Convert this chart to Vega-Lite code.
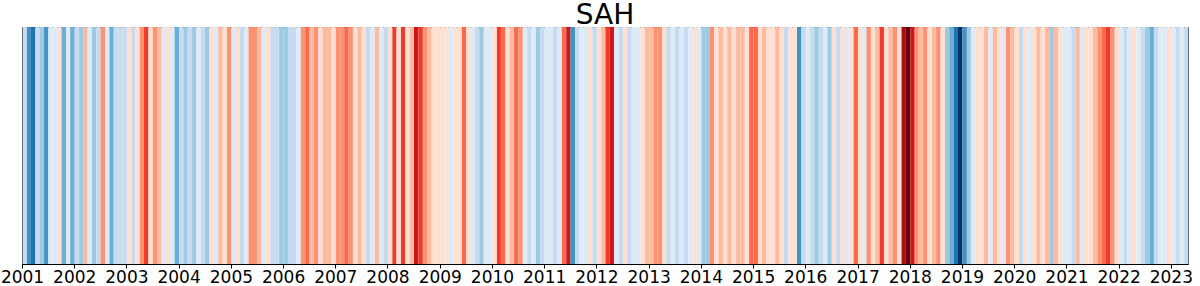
{
"$schema": "https://vega.github.io/schema/vega-lite/v6.json",
"width": 1166, "height": 237,
"autosize": {"type": "none"},
"padding": {"left": 22, "top": 27, "right": 12, "bottom": 22},
"background": "white",
"title": {"text": "SAH", "fontSize": 28, "font": "DejaVu Sans", "fontWeight": "normal", "color": "black", "offset": 3, "dy": 6, "anchor": "middle"},
"config": {"view": {"stroke": "black", "strokeWidth": 1}},
"datasets": {"stripes": [
{"date":"2001-01-01","level":6},{"date":"2001-02-01","level":3},{"date":"2001-03-01","level":2},{"date":"2001-04-01","level":6},{"date":"2001-05-01","level":5},{"date":"2001-06-01","level":3},{"date":"2001-07-01","level":7},{"date":"2001-08-01","level":7},{"date":"2001-09-01","level":8},{"date":"2001-10-01","level":4},{"date":"2001-11-01","level":7},{"date":"2001-12-01","level":4},
{"date":"2002-01-01","level":6},{"date":"2002-02-01","level":5},{"date":"2002-03-01","level":9},{"date":"2002-04-01","level":7},{"date":"2002-05-01","level":5},{"date":"2002-06-01","level":6},{"date":"2002-07-01","level":10},{"date":"2002-08-01","level":7},{"date":"2002-09-01","level":4},{"date":"2002-10-01","level":6},{"date":"2002-11-01","level":6},{"date":"2002-12-01","level":6},
{"date":"2003-01-01","level":8},{"date":"2003-02-01","level":6},{"date":"2003-03-01","level":8},{"date":"2003-04-01","level":10},{"date":"2003-05-01","level":12},{"date":"2003-06-01","level":8},{"date":"2003-07-01","level":10},{"date":"2003-08-01","level":9},{"date":"2003-09-01","level":7},{"date":"2003-10-01","level":8},{"date":"2003-11-01","level":7},{"date":"2003-12-01","level":4},
{"date":"2004-01-01","level":6},{"date":"2004-02-01","level":5},{"date":"2004-03-01","level":6},{"date":"2004-04-01","level":5},{"date":"2004-05-01","level":7},{"date":"2004-06-01","level":6},{"date":"2004-07-01","level":5},{"date":"2004-08-01","level":8},{"date":"2004-09-01","level":7},{"date":"2004-10-01","level":9},{"date":"2004-11-01","level":8},{"date":"2004-12-01","level":10},
{"date":"2005-01-01","level":7},{"date":"2005-02-01","level":8},{"date":"2005-03-01","level":6},{"date":"2005-04-01","level":7},{"date":"2005-05-01","level":10},{"date":"2005-06-01","level":10},{"date":"2005-07-01","level":9},{"date":"2005-08-01","level":7},{"date":"2005-09-01","level":8},{"date":"2005-10-01","level":6},{"date":"2005-11-01","level":6},{"date":"2005-12-01","level":5},
{"date":"2006-01-01","level":5},{"date":"2006-02-01","level":6},{"date":"2006-03-01","level":6},{"date":"2006-04-01","level":7},{"date":"2006-05-01","level":10},{"date":"2006-06-01","level":11},{"date":"2006-07-01","level":9},{"date":"2006-08-01","level":10},{"date":"2006-09-01","level":8},{"date":"2006-10-01","level":9},{"date":"2006-11-01","level":9},{"date":"2006-12-01","level":8},
{"date":"2007-01-01","level":10},{"date":"2007-02-01","level":10},{"date":"2007-03-01","level":11},{"date":"2007-04-01","level":10},{"date":"2007-05-01","level":8},{"date":"2007-06-01","level":9},{"date":"2007-07-01","level":8},{"date":"2007-08-01","level":6},{"date":"2007-09-01","level":7},{"date":"2007-10-01","level":9},{"date":"2007-11-01","level":7},{"date":"2007-12-01","level":6},
{"date":"2008-01-01","level":8},{"date":"2008-02-01","level":12},{"date":"2008-03-01","level":8},{"date":"2008-04-01","level":12},{"date":"2008-05-01","level":8},{"date":"2008-06-01","level":9},{"date":"2008-07-01","level":13},{"date":"2008-08-01","level":12},{"date":"2008-09-01","level":10},{"date":"2008-10-01","level":9},{"date":"2008-11-01","level":8},{"date":"2008-12-01","level":8},
{"date":"2009-01-01","level":8},{"date":"2009-02-01","level":8},{"date":"2009-03-01","level":7},{"date":"2009-04-01","level":8},{"date":"2009-05-01","level":8},{"date":"2009-06-01","level":11},{"date":"2009-07-01","level":8},{"date":"2009-08-01","level":7},{"date":"2009-09-01","level":6},{"date":"2009-10-01","level":5},{"date":"2009-11-01","level":7},{"date":"2009-12-01","level":7},
{"date":"2010-01-01","level":8},{"date":"2010-02-01","level":12},{"date":"2010-03-01","level":11},{"date":"2010-04-01","level":8},{"date":"2010-05-01","level":9},{"date":"2010-06-01","level":11},{"date":"2010-07-01","level":10},{"date":"2010-08-01","level":7},{"date":"2010-09-01","level":6},{"date":"2010-10-01","level":7},{"date":"2010-11-01","level":5},{"date":"2010-12-01","level":6},
{"date":"2011-01-01","level":7},{"date":"2011-02-01","level":7},{"date":"2011-03-01","level":6},{"date":"2011-04-01","level":7},{"date":"2011-05-01","level":11},{"date":"2011-06-01","level":13},{"date":"2011-07-01","level":3},{"date":"2011-08-01","level":6},{"date":"2011-09-01","level":7},{"date":"2011-10-01","level":7},{"date":"2011-11-01","level":8},{"date":"2011-12-01","level":6},
{"date":"2012-01-01","level":8},{"date":"2012-02-01","level":9},{"date":"2012-03-01","level":12},{"date":"2012-04-01","level":13},{"date":"2012-05-01","level":7},{"date":"2012-06-01","level":6},{"date":"2012-07-01","level":8},{"date":"2012-08-01","level":6},{"date":"2012-09-01","level":7},{"date":"2012-10-01","level":7},{"date":"2012-11-01","level":8},{"date":"2012-12-01","level":9},
{"date":"2013-01-01","level":9},{"date":"2013-02-01","level":10},{"date":"2013-03-01","level":10},{"date":"2013-04-01","level":8},{"date":"2013-05-01","level":6},{"date":"2013-06-01","level":7},{"date":"2013-07-01","level":6},{"date":"2013-08-01","level":7},{"date":"2013-09-01","level":6},{"date":"2013-10-01","level":7},{"date":"2013-11-01","level":8},{"date":"2013-12-01","level":7},
{"date":"2014-01-01","level":5},{"date":"2014-02-01","level":5},{"date":"2014-03-01","level":10},{"date":"2014-04-01","level":8},{"date":"2014-05-01","level":9},{"date":"2014-06-01","level":8},{"date":"2014-07-01","level":9},{"date":"2014-08-01","level":8},{"date":"2014-09-01","level":9},{"date":"2014-10-01","level":9},{"date":"2014-11-01","level":8},{"date":"2014-12-01","level":11},
{"date":"2015-01-01","level":11},{"date":"2015-02-01","level":8},{"date":"2015-03-01","level":9},{"date":"2015-04-01","level":8},{"date":"2015-05-01","level":8},{"date":"2015-06-01","level":9},{"date":"2015-07-01","level":8},{"date":"2015-08-01","level":6},{"date":"2015-09-01","level":8},{"date":"2015-10-01","level":8},{"date":"2015-11-01","level":3},{"date":"2015-12-01","level":6},
{"date":"2016-01-01","level":7},{"date":"2016-02-01","level":6},{"date":"2016-03-01","level":5},{"date":"2016-04-01","level":6},{"date":"2016-05-01","level":7},{"date":"2016-06-01","level":5},{"date":"2016-07-01","level":8},{"date":"2016-08-01","level":6},{"date":"2016-09-01","level":8},{"date":"2016-10-01","level":7},{"date":"2016-11-01","level":8},{"date":"2016-12-01","level":11},
{"date":"2017-01-01","level":8},{"date":"2017-02-01","level":7},{"date":"2017-03-01","level":10},{"date":"2017-04-01","level":8},{"date":"2017-05-01","level":9},{"date":"2017-06-01","level":12},{"date":"2017-07-01","level":8},{"date":"2017-08-01","level":9},{"date":"2017-09-01","level":10},{"date":"2017-10-01","level":8},{"date":"2017-11-01","level":14},{"date":"2017-12-01","level":15},
{"date":"2018-01-01","level":13},{"date":"2018-02-01","level":10},{"date":"2018-03-01","level":9},{"date":"2018-04-01","level":10},{"date":"2018-05-01","level":8},{"date":"2018-06-01","level":9},{"date":"2018-07-01","level":10},{"date":"2018-08-01","level":8},{"date":"2018-09-01","level":5},{"date":"2018-10-01","level":4},{"date":"2018-11-01","level":2},{"date":"2018-12-01","level":0},
{"date":"2019-01-01","level":3},{"date":"2019-02-01","level":5},{"date":"2019-03-01","level":7},{"date":"2019-04-01","level":8},{"date":"2019-05-01","level":8},{"date":"2019-06-01","level":9},{"date":"2019-07-01","level":7},{"date":"2019-08-01","level":9},{"date":"2019-09-01","level":8},{"date":"2019-10-01","level":7},{"date":"2019-11-01","level":10},{"date":"2019-12-01","level":9},
{"date":"2020-01-01","level":8},{"date":"2020-02-01","level":6},{"date":"2020-03-01","level":8},{"date":"2020-04-01","level":7},{"date":"2020-05-01","level":8},{"date":"2020-06-01","level":9},{"date":"2020-07-01","level":8},{"date":"2020-08-01","level":9},{"date":"2020-09-01","level":5},{"date":"2020-10-01","level":9},{"date":"2020-11-01","level":8},{"date":"2020-12-01","level":7},
{"date":"2021-01-01","level":7},{"date":"2021-02-01","level":6},{"date":"2021-03-01","level":9},{"date":"2021-04-01","level":7},{"date":"2021-05-01","level":8},{"date":"2021-06-01","level":8},{"date":"2021-07-01","level":9},{"date":"2021-08-01","level":10},{"date":"2021-09-01","level":11},{"date":"2021-10-01","level":12},{"date":"2021-11-01","level":10},{"date":"2021-12-01","level":8},
{"date":"2022-01-01","level":7},{"date":"2022-02-01","level":6},{"date":"2022-03-01","level":7},{"date":"2022-04-01","level":8},{"date":"2022-05-01","level":7},{"date":"2022-06-01","level":6},{"date":"2022-07-01","level":5},{"date":"2022-08-01","level":4},{"date":"2022-09-01","level":6},{"date":"2022-10-01","level":7},{"date":"2022-11-01","level":7},{"date":"2022-12-01","level":8},
{"date":"2023-01-01","level":7},{"date":"2023-02-01","level":6},{"date":"2023-03-01","level":7},{"date":"2023-04-01","level":6}
]},
"data": {"name": "stripes", "format": {"parse": {"date": "utc:'%Y-%m-%d'"}}},
"mark": {"type": "rect"},
"encoding": {
  "x": {"field": "date", "type": "temporal", "timeUnit": "utcyearmonth",
    "scale": {"type": "utc", "domain": [{"year": 2001, "month": 1, "date": 1, "utc": true}, {"year": 2023, "month": 5, "date": 1, "utc": true}], "nice": false},
    "axis": {"title": null, "format": "%Y", "tickCount": {"interval": "year", "step": 1}, "labelFlush": false, "labelOverlap": false, "labelFontSize": 17, "labelFont": "DejaVu Sans", "labelColor": "black", "tickColor": "black", "tickSize": 4, "tickWidth": 1, "domain": false, "grid": false, "labelPadding": 1}},
  "color": {"field": "level", "type": "ordinal",
    "scale": {"domain": [0,1,2,3,4,5,6,7,8,9,10,11,12,13,14,15], "range": ["#08306b","#08519c","#2171b5","#4292c6","#6baed6","#9ecae1","#c6dbef","#deebf7","#fee0d2","#fcbba1","#fc9272","#fb6a4a","#ef3b2c","#cb181d","#a50f15","#67000d"]},
    "legend": null}
}
}
